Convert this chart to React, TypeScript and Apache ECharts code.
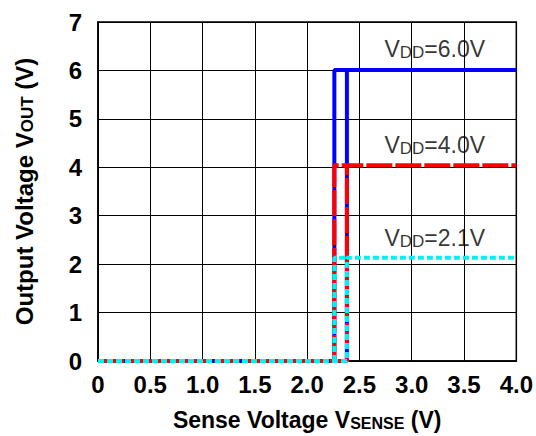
import React, { useEffect, useRef } from "react";
import * as echarts from "echarts";

// Sense voltage tick labels and axis ranges
const xTicks = ["0", "0.5", "1.0", "1.5", "2.0", "2.5", "3.0", "3.5", "4.0"];
const yTicks = ["0", "1", "2", "3", "4", "5", "6", "7"];

// Output voltage curves (rising branch and falling branch of hysteresis)
const vdd60Rise = [[0, 0], [2.38, 0], [2.38, 6.01], [4.0, 6.01]];
const vdd60Fall = [[2.26, 0], [2.26, 6.01], [2.38, 6.01]];
const vdd40Rise = [[0, 0], [2.38, 0], [2.38, 4.04], [4.0, 4.04]];
const vdd40Fall = [[2.26, 0], [2.26, 4.04], [2.38, 4.04]];
const vdd21Rise = [[0, 0], [2.38, 0], [2.38, 2.13], [4.0, 2.13]];
const vdd21Fall = [[2.26, 0], [2.26, 2.13], [2.38, 2.13]];

// Annotation labels
const labelNames = ["6.0V", "4.0V", "2.1V"];
const labelAt = [[3.22, 6.44], [3.22, 4.45], [3.22, 2.53]];

export default function App() {
  const ref = useRef<HTMLDivElement>(null);
  useEffect(() => {
    const chart = echarts.init(ref.current!, null, { renderer: "svg" });
    const font = "'Liberation Sans', Arial, sans-serif";
    const blue = { color: "#0000ff", width: 4, type: "solid" as const };
    const red = { color: "#ff0000", width: 4, type: [26, 3] as any };
    const cyan = { color: "#00f2f2", width: 4, type: [6, 3] as any };
    const mk = (data: number[][], ls: any, z: number) => ({
      type: "line",
      data,
      showSymbol: false,
      symbol: "none",
      clip: false,
      lineStyle: ls,
      itemStyle: { color: ls.color },
      z,
      silent: true,
    });
    chart.setOption({
      animation: false,
      backgroundColor: "#ffffff",
      grid: {
        left: 98,
        right: 18,
        top: 22,
        bottom: 75,
        show: true,
        borderColor: "#000",
        borderWidth: 1.5,
      },
      xAxis: {
        type: "value",
        min: 0,
        max: 4,
        interval: 0.5,
        axisLine: { show: true, lineStyle: { color: "#000", width: 1.5 } },
        axisTick: { show: false },
        splitLine: { show: true, lineStyle: { color: "#000", width: 1 } },
        axisLabel: {
          color: "#000",
          fontFamily: font,
          fontWeight: "bold",
          fontSize: 24,
          margin: 11,
          formatter: (v: number) => xTicks[Math.round(v / 0.5)],
        },
        name: "Sense Voltage V{s|SENSE} (V)",
        nameLocation: "middle",
        nameGap: 47,
        nameTextStyle: {
          color: "#000",
          fontFamily: font,
          fontWeight: "bold",
          fontSize: 23,
          rich: {
            s: { fontFamily: font, fontWeight: "bold", fontSize: 16, color: "#000", verticalAlign: "bottom" },
          },
        },
      },
      yAxis: {
        type: "value",
        min: 0,
        max: 7,
        interval: 1,
        axisLine: { show: true, lineStyle: { color: "#000", width: 1.5 } },
        axisTick: { show: false },
        splitLine: { show: true, lineStyle: { color: "#000", width: 1 } },
        axisLabel: {
          color: "#000",
          fontFamily: font,
          fontWeight: "bold",
          fontSize: 24,
          margin: 16,
          formatter: (v: number) => yTicks[Math.round(v)],
        },
        name: "Output Voltage V{s|OUT} (V)",
        nameLocation: "middle",
        nameGap: 62,
        nameTextStyle: {
          color: "#000",
          fontFamily: font,
          fontWeight: "bold",
          fontSize: 24,
          rich: {
            s: { fontFamily: font, fontWeight: "bold", fontSize: 17, color: "#000", verticalAlign: "bottom" },
          },
        },
      },
      series: [
        mk(vdd60Rise, blue, 2),
        mk(vdd60Fall, blue, 2),
        mk(vdd40Rise, red, 3),
        mk(vdd40Fall, red, 3),
        mk(vdd21Rise, cyan, 4),
        mk(vdd21Fall, cyan, 4),
        {
          type: "scatter",
          symbolSize: 0,
          silent: true,
          z: 5,
          data: labelAt.map((p, i) => ({ value: p, name: labelNames[i] })),
          label: {
            show: true,
            position: "inside",
            formatter: (p: any) => `{v|V}{s|DD}{v|=${p.name}}`,
            rich: {
              v: { fontFamily: font, fontSize: 23, color: "#000", verticalAlign: "bottom" },
              s: { fontFamily: font, fontSize: 17, color: "#000", verticalAlign: "bottom" },
            },
          },
        },
      ],
    });
    return () => chart.dispose();
  }, []);
  return <div ref={ref} style={{ width: 536, height: 436, position: "absolute", left: 0, top: 0 }} />;
}
